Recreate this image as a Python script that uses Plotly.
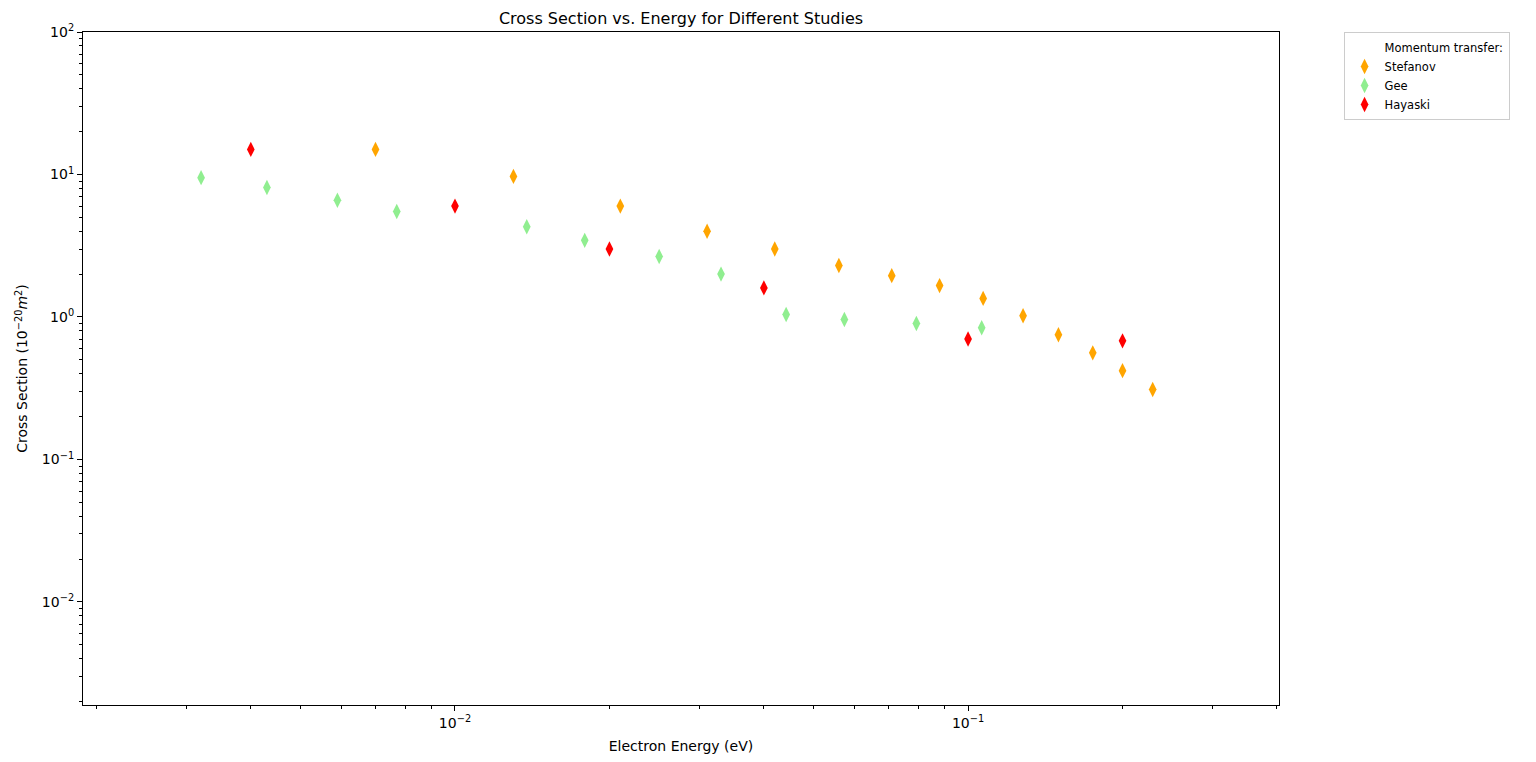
import plotly.graph_objects as go

# Stefanov
stefanov_energy = [0.007, 0.013, 0.021, 0.031, 0.042, 0.056, 0.071, 0.088,
                   0.107, 0.128, 0.150, 0.175, 0.200, 0.229]
stefanov_xsec = [15.0, 9.7, 6.0, 4.0, 3.0, 2.3, 1.95, 1.66,
                 1.35, 1.02, 0.75, 0.56, 0.42, 0.31]

# Gee
gee_energy = [0.0032, 0.0043, 0.0059, 0.0077, 0.0138, 0.0179, 0.025, 0.033,
              0.0442, 0.0574, 0.0793, 0.1063]
gee_xsec = [9.5, 8.1, 6.6, 5.5, 4.3, 3.45, 2.66, 2.0,
            1.04, 0.96, 0.90, 0.84]

# Hayaski
hayaski_energy = [0.004, 0.01, 0.02, 0.04, 0.1, 0.2]
hayaski_xsec = [15.0, 6.0, 3.0, 1.6, 0.7, 0.68]

x_ticks = [0.01, 0.1]
x_tick_text = ["10<sup>−2</sup>", "10<sup>−1</sup>"]
y_ticks = [0.01, 0.1, 1, 10, 100]
y_tick_text = ["10<sup>−2</sup>", "10<sup>−1</sup>", "10<sup>0</sup>",
               "10<sup>1</sup>", "10<sup>2</sup>"]

def minor_ticks(decades):
    return [m * 10.0 ** d for d in decades for m in range(2, 10)]

fig = go.Figure()

# empty entry so the legend shows the heading like matplotlib does
fig.add_trace(go.Scatter(
    x=[None], y=[None], mode='markers', name='Momentum transfer:',
    marker=dict(color='rgba(0,0,0,0)', size=1)
))

series = [
    ("Stefanov", stefanov_energy, stefanov_xsec, "orange"),
    ("Gee", gee_energy, gee_xsec, "lightgreen"),
    ("Hayaski", hayaski_energy, hayaski_xsec, "red"),
]
for name, xs, ys, color in series:
    fig.add_trace(go.Scatter(
        x=xs, y=ys, mode='markers', name=name,
        marker=dict(symbol='diamond-tall', size=11, color=color,
                    line=dict(width=0))
    ))

axis_style = dict(
    type='log', showgrid=False, zeroline=False, automargin=False,
    showline=True, linecolor='black', linewidth=1.1, mirror=True,
    ticks='outside', ticklen=5, tickwidth=1.1, tickcolor='black',
    tickfont=dict(size=14, color='black'),
)

fig.update_xaxes(
    **axis_style,
    range=[-2.725, -0.394],
    tickvals=x_ticks, ticktext=x_tick_text,
    minor=dict(ticks='outside', ticklen=3, tickwidth=0.8, tickcolor='black',
               tickvals=minor_ticks([-3, -2, -1])),
    title=dict(text='Electron Energy (eV)', font=dict(size=14, color='black'),
               standoff=11),
)
fig.update_yaxes(
    **axis_style,
    range=[-2.723, 2],
    tickvals=y_ticks, ticktext=y_tick_text,
    minor=dict(ticks='outside', ticklen=3, tickwidth=0.8, tickcolor='black',
               tickvals=minor_ticks([-3, -2, -1, 0, 1])),
    title=dict(text='Cross Section (10<sup>−20</sup><i>m</i><sup>2</sup>)',
               font=dict(size=14, color='black'), standoff=10),
)

# page has an 8px body margin, so the figure is 16px smaller each way
fig.update_layout(
    width=1520, height=746,
    margin=dict(l=75, r=249, t=24, b=49),
    plot_bgcolor='white', paper_bgcolor='white',
    font=dict(family='DejaVu Sans', color='black'),
    title=dict(text='Cross Section vs. Energy for Different Studies',
               x=(75 + 1271) / 2 / 1520, xanchor='center',
               y=1 - 10 / 746, yanchor='middle',
               font=dict(size=16, color='black')),
    legend=dict(x=1.054, y=1.0, xanchor='left', yanchor='top',
                bordercolor='#cccccc', borderwidth=1, bgcolor='white',
                font=dict(size=11.5, color='black')),
)

fig.write_html("out.html")
